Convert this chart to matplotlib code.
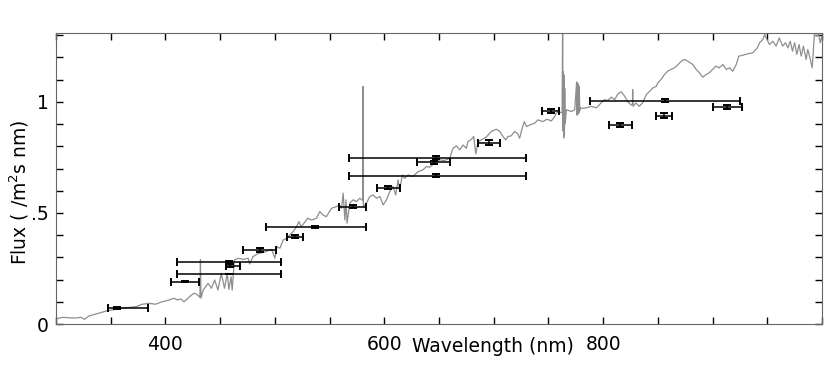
import matplotlib
matplotlib.use('Agg')
import matplotlib.pyplot as plt
from matplotlib.ticker import MultipleLocator

# spectrum (nm, flux)
wl = [300, 306, 312, 318, 323, 326, 330, 336.5, 342.6, 347, 355, 364, 373, 379, 385, 391, 397,
      403.5, 408, 411, 414, 417, 422, 426, 428.5, 431.5, 432, 432.5, 434.5, 439, 442, 445, 448,
      451, 454, 456.5, 458, 460, 461, 463, 466.5, 471, 475.6, 477, 480, 485, 488, 492, 497, 500,
      502, 504.6, 507.6, 510.7, 513.7, 516.7, 519.8, 522, 524, 527, 530, 533.5, 538, 541, 544,
      547, 551.8, 556, 559, 561, 562.4, 564, 565, 566, 568.5, 571.5, 574.6, 577.6, 580.3, 580.6,
      580.9, 583.7, 586.8, 589.8, 593, 596, 599, 602, 605, 608, 610.5, 612.6, 614, 616.6, 618.7,
      621.7, 626, 631, 635.4, 638.5, 641.5, 646, 650.7, 655, 659.8, 662.8, 666, 669, 672, 675,
      676.5, 679.6, 681.7, 683.6, 685.7, 688.8, 693, 697.9, 702.4, 705.5, 708.5, 711, 713, 716,
      719, 722, 723.7, 726, 728, 730, 733, 737.4, 740.5, 745, 748.7, 752.7, 755.7, 757, 760,
      762.5, 763, 763.3, 763.7, 764, 764.3, 764.6, 764.9, 765.3, 766.4, 771, 774, 775.8, 776.2,
      776.6, 777, 777.4, 777.8, 778.2, 778.6, 779, 781.6, 784.6, 789, 793.8, 798, 801, 804,
      807.5, 810.5, 813.5, 816.6, 819.6, 822.6, 825.7, 826.8, 827, 827.3, 830, 833, 836, 839.5,
      842.5, 845.5, 848.6, 850, 853, 856, 859, 862, 865, 868, 871.4, 874.4, 877.4, 882, 885,
      888, 891, 894, 897, 900, 903, 906, 909.4, 912.5, 915.5, 918.5, 921.6, 924, 927.7, 932,
      936.8, 940.5, 943, 946, 947.5, 949, 952, 955, 958, 961, 964, 966.7, 968.8, 971, 973, 975,
      977, 979, 981, 983, 985.5, 987, 989, 991, 992, 993, 994.7, 997, 998.4, 1000]
flux = [0.023, 0.030, 0.028, 0.027, 0.030, 0.021, 0.036, 0.045, 0.054, 0.060, 0.066, 0.073, 0.078,
        0.089, 0.093, 0.089, 0.100, 0.108, 0.116, 0.108, 0.113, 0.100, 0.123, 0.138, 0.135, 0.120,
        0.290, 0.117, 0.153, 0.183, 0.161, 0.198, 0.153, 0.228, 0.161, 0.228, 0.156, 0.213, 0.153,
        0.288, 0.296, 0.291, 0.296, 0.270, 0.303, 0.318, 0.321, 0.326, 0.336, 0.296, 0.348, 0.341,
        0.378, 0.386, 0.401, 0.416, 0.438, 0.461, 0.438, 0.456, 0.476, 0.468, 0.476, 0.506, 0.491,
        0.483, 0.521, 0.528, 0.536, 0.521, 0.589, 0.468, 0.559, 0.454, 0.544, 0.559, 0.551, 0.566,
        0.556, 1.069, 0.528, 0.544, 0.574, 0.581, 0.566, 0.574, 0.536, 0.559, 0.596, 0.619, 0.581,
        0.649, 0.604, 0.671, 0.656, 0.671, 0.664, 0.686, 0.694, 0.709, 0.706, 0.724, 0.739, 0.736,
        0.746, 0.791, 0.802, 0.784, 0.806, 0.791, 0.821, 0.832, 0.844, 0.766, 0.821, 0.829, 0.841,
        0.867, 0.877, 0.867, 0.844, 0.829, 0.844, 0.847, 0.867, 0.856, 0.836, 0.881, 0.911, 0.889,
        0.896, 0.904, 0.919, 0.911, 0.922, 0.914, 0.934, 0.949, 0.955, 0.950, 1.400, 0.870, 1.136,
        0.838, 1.120, 0.850, 1.060, 0.900, 0.964, 0.957, 0.964, 1.090, 0.940, 1.085, 0.945, 1.080,
        0.950, 1.070, 0.960, 0.973, 0.971, 0.973, 0.980, 0.973, 0.995, 1.010, 1.006, 1.021, 1.010,
        1.036, 1.045, 1.026, 1.000, 0.985, 0.990, 1.055, 0.980, 0.995, 0.980, 0.995, 1.033, 1.048,
        1.063, 1.070, 1.086, 1.101, 1.123, 1.138, 1.146, 1.153, 1.165, 1.183, 1.191, 1.183, 1.168,
        1.146, 1.131, 1.111, 1.123, 1.131, 1.146, 1.161, 1.153, 1.168, 1.146, 1.153, 1.138, 1.168,
        1.206, 1.210, 1.216, 1.221, 1.240, 1.266, 1.281, 1.303, 1.288, 1.258, 1.273, 1.251, 1.288,
        1.251, 1.266, 1.243, 1.273, 1.228, 1.266, 1.214, 1.258, 1.206, 1.251, 1.191, 1.236, 1.198,
        1.153, 1.221, 1.303, 1.296, 1.303, 1.266, 1.296]

# photometry points: centre, flux, band edges, flux error
pt_x = [356, 417.5, 458, 459, 458, 486, 518, 537, 571.5, 603.5, 647.6, 645.5, 647.6, 695.4,
        752.7, 815.4, 855.2, 856.2, 913.4]
pt_y = [0.073, 0.190, 0.279, 0.263, 0.225, 0.333, 0.393, 0.436, 0.527, 0.614, 0.749, 0.728,
        0.668, 0.817, 0.959, 0.898, 0.938, 1.005, 0.977]
band_lo = [347.2, 404.7, 410.2, 455.0, 410.2, 470.5, 510.7, 491.8, 558.7, 593.7, 567.6, 630.0,
           567.6, 685.7, 744.4, 805.0, 848.0, 788.0, 900.3]
band_hi = [384.3, 430.8, 505.5, 468.0, 505.5, 500.9, 525.8, 583.1, 583.7, 614.2, 729.2, 659.8,
           729.2, 706.1, 759.6, 826.0, 862.8, 924.7, 926.8]
pt_err = [0.005, 0.003, 0.004, 0.008, 0.0, 0.007, 0.007, 0.004, 0.007, 0.007, 0.008, 0.008,
          0.007, 0.012, 0.010, 0.009, 0.012, 0.007, 0.007]

xerr_lo = [x - lo for x, lo in zip(pt_x, band_lo)]
xerr_hi = [hi - x for x, hi in zip(pt_x, band_hi)]

fig = plt.figure(figsize=(8.3, 3.69), dpi=100)
ax = fig.add_axes([56 / 830, 45 / 369, 766 / 830, 291 / 369])

ax.plot(wl, flux, color='#8e8e8e', lw=0.9)
ax.errorbar(pt_x, pt_y, xerr=[xerr_lo, xerr_hi], yerr=pt_err, fmt='none',
            ecolor='black', elinewidth=1.1, capsize=3, capthick=1.4)

ax.set_xlim(300, 1000)
ax.set_ylim(0, 1.31)
ax.set_xticks([400, 600, 800])
ax.xaxis.set_minor_locator(MultipleLocator(50))
ax.set_yticks([0, 0.5, 1])
ax.set_yticklabels(['0', '.5', '1'])
ax.yaxis.set_minor_locator(MultipleLocator(0.1))
ax.tick_params(which='both', direction='in', top=True, right=True, length=5, width=1,
               labelsize=13.5)
ax.tick_params(axis='x', pad=8)
ax.tick_params(axis='y', pad=5)
for s in ax.spines.values():
    s.set_color('#666666')

ax.set_xlabel('Wavelength (nm)', fontsize=13.5)
ax.xaxis.set_label_coords(0.571, -0.045)
ax.set_ylabel('Flux ( /m$^2$s nm)', fontsize=13.5)
ax.yaxis.set_label_coords(-0.033, 0.454)

fig.savefig('out.png', dpi=100)
